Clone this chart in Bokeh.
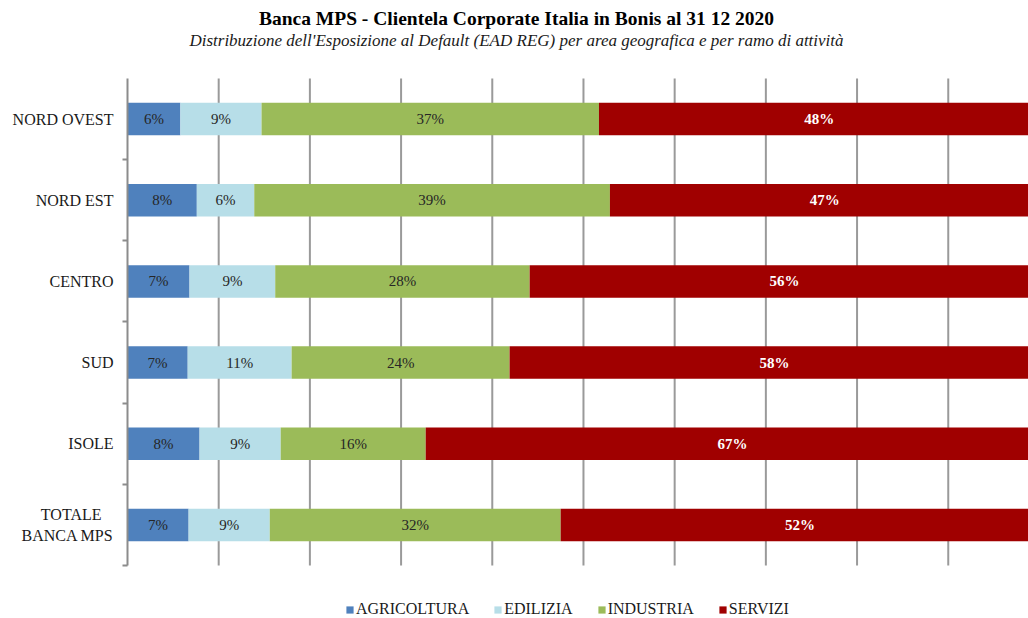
from bokeh.plotting import figure
from bokeh.models import ColumnDataSource, Range1d, FixedTicker, Legend, LegendItem, Label
from bokeh.core.properties import value
from bokeh.embed import file_html
from bokeh.resources import INLINE

categories = ["NORD OVEST", "NORD EST", "CENTRO", "SUD", "ISOLE", "TOTALE\u00a0\u00a0\u00a0\nBANCA MPS"]
agricoltura = [5.8, 7.6, 6.8, 6.6, 7.9, 6.7]
edilizia = [8.9, 6.3, 9.4, 11.4, 8.9, 8.9]
industria = [37.0, 39.0, 27.9, 23.9, 15.9, 31.9]
servizi = [48.3, 47.1, 55.9, 58.1, 67.3, 52.5]
series_names = ["AGRICOLTURA", "EDILIZIA", "INDUSTRIA", "SERVIZI"]
colors = ["#4F81BD", "#B7DEE8", "#9BBB59", "#A00000"]
grid_ticks = [10, 20, 30, 40, 50, 60, 70, 80, 90]

title_text = "Banca MPS - Clientela Corporate Italia in Bonis al 31 12 2020"
subtitle_text = "Distribuzione dell'Esposizione al Default (EAD REG) per area geografica e per ramo di attività"

FONT = "Liberation Serif"
n = len(categories)
ys = [n - i - 0.5 for i in range(n)]
series = [agricoltura, edilizia, industria, servizi]

W, H = 1028, 618
BL = 127
FW, FH = W - BL, H

data = {"y": ys}
for name, vals in zip(series_names, series):
    data[name] = vals
source = ColumnDataSource(data)

p = figure(width=W, height=H, output_backend="svg", toolbar_location=None,
           x_range=Range1d(0, 98.8), y_range=Range1d(-0.653, 6.961),
           min_border_left=BL, min_border_right=0, min_border_top=0, min_border_bottom=0)
p.outline_line_color = None
p.background_fill_color = "white"
p.border_fill_color = "white"

# vertical grid lines (behind bars), spanning only the category area
p.segment(x0=grid_ticks, y0=[0] * len(grid_ticks), x1=grid_ticks, y1=[n] * len(grid_ticks),
          line_color="#9a9a9a", line_width=2)

renderers = p.hbar_stack(series_names, y="y", height=0.4, color=colors, line_color=None,
                         source=source)

# data labels
cum = [0.0] * n
lab_dark = {"x": [], "y": [], "t": []}
lab_white = {"x": [], "y": [], "t": []}
for si, vals in enumerate(series):
    for i, v in enumerate(vals):
        c = cum[i] + v / 2.0
        cum[i] += v
        tgt = lab_white if si == 3 else lab_dark
        tgt["x"].append(c)
        tgt["y"].append(ys[i])
        tgt["t"].append(f"{round(v)}%")

p.text(x="x", y="y", text="t", source=ColumnDataSource(lab_dark),
       text_align="center", text_baseline="middle", text_font=value(FONT),
       text_font_size="15px", text_color="#262626")
p.text(x="x", y="y", text="t", source=ColumnDataSource(lab_white),
       text_align="center", text_baseline="middle", text_font=value(FONT),
       text_font_size="15px", text_color="white", text_font_style="bold")

p.xaxis.visible = False
p.xgrid.visible = False
p.ygrid.visible = False

# y axis
yax = p.yaxis[0]
yax.bounds = (0, n)
yax.ticker = FixedTicker(ticks=ys, minor_ticks=list(range(0, n)))
yax.major_label_overrides = {y: c for y, c in zip(ys, categories)}
yax.major_tick_line_color = None
yax.major_tick_out = 0
yax.major_tick_in = 0
yax.minor_tick_out = 5
yax.minor_tick_in = 0
yax.minor_tick_line_color = "#8c8c8c"
yax.minor_tick_line_width = 2
yax.axis_line_color = "#8c8c8c"
yax.axis_line_width = 2
yax.major_label_text_font = FONT
yax.major_label_text_font_size = "16px"
yax.major_label_text_color = "#1a1a1a"
yax.major_label_standoff = 9

# titles (screen units relative to frame bottom-left)
cx = 516 - BL
p.add_layout(Label(x=cx, y=FH - 18, x_units="screen", y_units="screen", text=title_text,
                   text_align="center", text_baseline="middle", text_font=FONT,
                   text_font_size="19.5px", text_font_style="bold", text_color="#000000"))
p.add_layout(Label(x=cx, y=FH - 40, x_units="screen", y_units="screen", text=subtitle_text,
                   text_align="center", text_baseline="middle", text_font=FONT,
                   text_font_size="17px", text_font_style="italic", text_color="#1a1a1a"))

legend = Legend(items=[LegendItem(label=nm, renderers=[r]) for nm, r in zip(series_names, renderers)],
                orientation="horizontal", location=(218, 0),
                label_text_font=FONT, label_text_font_size="16px", label_text_color="#1a1a1a",
                glyph_width=9, glyph_height=9, label_standoff=2, spacing=24,
                border_line_color=None, background_fill_alpha=0, padding=0, margin=0)
p.add_layout(legend, "center")

open("out.html", "w").write(file_html(p, INLINE))
